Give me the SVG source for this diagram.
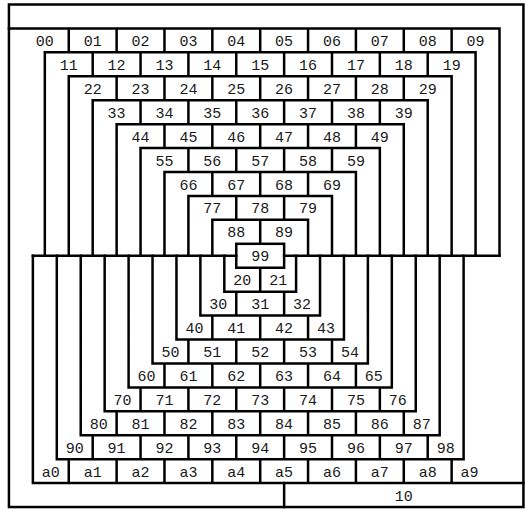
<svg xmlns="http://www.w3.org/2000/svg" width="526" height="509" viewBox="0 0 526 509">
<style>
.ln{fill:none;stroke:#000;stroke-width:2.5;stroke-linecap:square;stroke-linejoin:miter}
.dv{fill:none;stroke:#000;stroke-width:2.5}
text{font-family:"Liberation Mono","DejaVu Sans Mono",monospace;font-size:15px;text-anchor:middle;fill:#1a1a1a}
</style>
<rect width="526" height="509" fill="#fff"/>
<g id="connectors">
<rect class="ln" x="8.94" y="4.5" width="514.49" height="502.53"/>
<path class="ln" d="M8.94 28.43H499.5V255.77"/>
<path class="ln" d="M44.83 255.77V52.36H475.57V255.77M68.76 255.77V76.29H451.64V255.77M92.69 255.77V100.22H427.71V255.77M116.62 255.77V124.15H403.78V255.77M140.55 255.77V148.08H379.85V255.77M164.48 255.77V172.01H355.92V255.77M188.41 255.77V195.94H331.99V255.77M212.34 255.77V219.87H308.06V255.77"/>
<path class="ln" d="M32.87 255.77H236.27M284.13 255.77H499.5"/>
<rect class="ln" x="236.27" y="243.8" width="47.86" height="23.93"/>
<path class="ln" d="M224.31 255.77V291.66H296.1V255.77M200.38 255.77V315.59H320.03V255.77M176.45 255.77V339.52H343.96V255.77M152.52 255.77V363.45H367.89V255.77M128.59 255.77V387.38H391.82V255.77M104.66 255.77V411.31H415.75V255.77M80.73 255.77V435.24H439.68V255.77M56.8 255.77V459.17H463.61V255.77M32.87 255.77V483.1H523.43"/>
<path class="ln" d="M284.13 483.1V507.03"/>
<path class="dv" d="M68.76 28.43V52.36M116.62 28.43V52.36M164.48 28.43V52.36M212.34 28.43V52.36M260.2 28.43V52.36M308.06 28.43V52.36M355.92 28.43V52.36M403.78 28.43V52.36M451.64 28.43V52.36
M92.69 52.36V76.29M140.55 52.36V76.29M188.41 52.36V76.29M236.27 52.36V76.29M284.13 52.36V76.29M331.99 52.36V76.29M379.85 52.36V76.29M427.71 52.36V76.29
M116.62 76.29V100.22M164.48 76.29V100.22M212.34 76.29V100.22M260.2 76.29V100.22M308.06 76.29V100.22M355.92 76.29V100.22M403.78 76.29V100.22
M140.55 100.22V124.15M188.41 100.22V124.15M236.27 100.22V124.15M284.13 100.22V124.15M331.99 100.22V124.15M379.85 100.22V124.15
M164.48 124.15V148.08M212.34 124.15V148.08M260.2 124.15V148.08M308.06 124.15V148.08M355.92 124.15V148.08
M188.41 148.08V172.01M236.27 148.08V172.01M284.13 148.08V172.01M331.99 148.08V172.01
M212.34 172.01V195.94M260.2 172.01V195.94M308.06 172.01V195.94
M236.27 195.94V219.87M284.13 195.94V219.87
M260.2 219.87V243.8
M260.2 267.73V291.66
M236.27 291.66V315.59M284.13 291.66V315.59
M212.34 315.59V339.52M260.2 315.59V339.52M308.06 315.59V339.52
M188.41 339.52V363.45M236.27 339.52V363.45M284.13 339.52V363.45M331.99 339.52V363.45
M164.48 363.45V387.38M212.34 363.45V387.38M260.2 363.45V387.38M308.06 363.45V387.38M355.92 363.45V387.38
M140.55 387.38V411.31M188.41 387.38V411.31M236.27 387.38V411.31M284.13 387.38V411.31M331.99 387.38V411.31M379.85 387.38V411.31
M116.62 411.31V435.24M164.48 411.31V435.24M212.34 411.31V435.24M260.2 411.31V435.24M308.06 411.31V435.24M355.92 411.31V435.24M403.78 411.31V435.24
M92.69 435.24V459.17M140.55 435.24V459.17M188.41 435.24V459.17M236.27 435.24V459.17M284.13 435.24V459.17M331.99 435.24V459.17M379.85 435.24V459.17M427.71 435.24V459.17
M68.76 459.17V483.1M116.62 459.17V483.1M164.48 459.17V483.1M212.34 459.17V483.1M260.2 459.17V483.1M308.06 459.17V483.1M355.92 459.17V483.1M403.78 459.17V483.1M451.64 459.17V483.1"/>
</g>
<g id="n00"><text x="44.83" y="45.9">00</text></g>
<g id="n01"><text x="92.69" y="45.9">01</text></g>
<g id="n02"><text x="140.55" y="45.9">02</text></g>
<g id="n03"><text x="188.41" y="45.9">03</text></g>
<g id="n04"><text x="236.27" y="45.9">04</text></g>
<g id="n05"><text x="284.13" y="45.9">05</text></g>
<g id="n06"><text x="331.99" y="45.9">06</text></g>
<g id="n07"><text x="379.85" y="45.9">07</text></g>
<g id="n08"><text x="427.71" y="45.9">08</text></g>
<g id="n09"><text x="475.57" y="45.9">09</text></g>
<g id="n11"><text x="68.76" y="69.8">11</text></g>
<g id="n12"><text x="116.62" y="69.8">12</text></g>
<g id="n13"><text x="164.48" y="69.8">13</text></g>
<g id="n14"><text x="212.34" y="69.8">14</text></g>
<g id="n15"><text x="260.2" y="69.8">15</text></g>
<g id="n16"><text x="308.06" y="69.8">16</text></g>
<g id="n17"><text x="355.92" y="69.8">17</text></g>
<g id="n18"><text x="403.78" y="69.8">18</text></g>
<g id="n19"><text x="451.64" y="69.8">19</text></g>
<g id="n22"><text x="92.69" y="93.8">22</text></g>
<g id="n23"><text x="140.55" y="93.8">23</text></g>
<g id="n24"><text x="188.41" y="93.8">24</text></g>
<g id="n25"><text x="236.27" y="93.8">25</text></g>
<g id="n26"><text x="284.13" y="93.8">26</text></g>
<g id="n27"><text x="331.99" y="93.8">27</text></g>
<g id="n28"><text x="379.85" y="93.8">28</text></g>
<g id="n29"><text x="427.71" y="93.8">29</text></g>
<g id="n33"><text x="116.62" y="117.7">33</text></g>
<g id="n34"><text x="164.48" y="117.7">34</text></g>
<g id="n35"><text x="212.34" y="117.7">35</text></g>
<g id="n36"><text x="260.2" y="117.7">36</text></g>
<g id="n37"><text x="308.06" y="117.7">37</text></g>
<g id="n38"><text x="355.92" y="117.7">38</text></g>
<g id="n39"><text x="403.78" y="117.7">39</text></g>
<g id="n44"><text x="140.55" y="141.6">44</text></g>
<g id="n45"><text x="188.41" y="141.6">45</text></g>
<g id="n46"><text x="236.27" y="141.6">46</text></g>
<g id="n47"><text x="284.13" y="141.6">47</text></g>
<g id="n48"><text x="331.99" y="141.6">48</text></g>
<g id="n49"><text x="379.85" y="141.6">49</text></g>
<g id="n55"><text x="164.48" y="165.6">55</text></g>
<g id="n56"><text x="212.34" y="165.6">56</text></g>
<g id="n57"><text x="260.2" y="165.6">57</text></g>
<g id="n58"><text x="308.06" y="165.6">58</text></g>
<g id="n59"><text x="355.92" y="165.6">59</text></g>
<g id="n66"><text x="188.41" y="189.5">66</text></g>
<g id="n67"><text x="236.27" y="189.5">67</text></g>
<g id="n68"><text x="284.13" y="189.5">68</text></g>
<g id="n69"><text x="331.99" y="189.5">69</text></g>
<g id="n77"><text x="212.34" y="213.4">77</text></g>
<g id="n78"><text x="260.2" y="213.4">78</text></g>
<g id="n79"><text x="308.06" y="213.4">79</text></g>
<g id="n88"><text x="236.27" y="237.3">88</text></g>
<g id="n89"><text x="284.13" y="237.3">89</text></g>
<g id="n99"><text x="260.2" y="261.3">99</text></g>
<g id="n20"><text x="242.25" y="285.2">20</text></g>
<g id="n21"><text x="278.15" y="285.2">21</text></g>
<g id="n30"><text x="218.32" y="309.1">30</text></g>
<g id="n31"><text x="260.2" y="309.1">31</text></g>
<g id="n32"><text x="302.08" y="309.1">32</text></g>
<g id="n40"><text x="194.39" y="333.1">40</text></g>
<g id="n41"><text x="236.27" y="333.1">41</text></g>
<g id="n42"><text x="284.13" y="333.1">42</text></g>
<g id="n43"><text x="326.01" y="333.1">43</text></g>
<g id="n50"><text x="170.46" y="357">50</text></g>
<g id="n51"><text x="212.34" y="357">51</text></g>
<g id="n52"><text x="260.2" y="357">52</text></g>
<g id="n53"><text x="308.06" y="357">53</text></g>
<g id="n54"><text x="349.94" y="357">54</text></g>
<g id="n60"><text x="146.53" y="380.9">60</text></g>
<g id="n61"><text x="188.41" y="380.9">61</text></g>
<g id="n62"><text x="236.27" y="380.9">62</text></g>
<g id="n63"><text x="284.13" y="380.9">63</text></g>
<g id="n64"><text x="331.99" y="380.9">64</text></g>
<g id="n65"><text x="373.87" y="380.9">65</text></g>
<g id="n70"><text x="122.6" y="404.9">70</text></g>
<g id="n71"><text x="164.48" y="404.9">71</text></g>
<g id="n72"><text x="212.34" y="404.9">72</text></g>
<g id="n73"><text x="260.2" y="404.9">73</text></g>
<g id="n74"><text x="308.06" y="404.9">74</text></g>
<g id="n75"><text x="355.92" y="404.9">75</text></g>
<g id="n76"><text x="397.8" y="404.9">76</text></g>
<g id="n80"><text x="98.67" y="428.8">80</text></g>
<g id="n81"><text x="140.55" y="428.8">81</text></g>
<g id="n82"><text x="188.41" y="428.8">82</text></g>
<g id="n83"><text x="236.27" y="428.8">83</text></g>
<g id="n84"><text x="284.13" y="428.8">84</text></g>
<g id="n85"><text x="331.99" y="428.8">85</text></g>
<g id="n86"><text x="379.85" y="428.8">86</text></g>
<g id="n87"><text x="421.73" y="428.8">87</text></g>
<g id="n90"><text x="74.74" y="452.7">90</text></g>
<g id="n91"><text x="116.62" y="452.7">91</text></g>
<g id="n92"><text x="164.48" y="452.7">92</text></g>
<g id="n93"><text x="212.34" y="452.7">93</text></g>
<g id="n94"><text x="260.2" y="452.7">94</text></g>
<g id="n95"><text x="308.06" y="452.7">95</text></g>
<g id="n96"><text x="355.92" y="452.7">96</text></g>
<g id="n97"><text x="403.78" y="452.7">97</text></g>
<g id="n98"><text x="445.66" y="452.7">98</text></g>
<g id="na0"><text x="50.81" y="476.6">a0</text></g>
<g id="na1"><text x="92.69" y="476.6">a1</text></g>
<g id="na2"><text x="140.55" y="476.6">a2</text></g>
<g id="na3"><text x="188.41" y="476.6">a3</text></g>
<g id="na4"><text x="236.27" y="476.6">a4</text></g>
<g id="na5"><text x="284.13" y="476.6">a5</text></g>
<g id="na6"><text x="331.99" y="476.6">a6</text></g>
<g id="na7"><text x="379.85" y="476.6">a7</text></g>
<g id="na8"><text x="427.71" y="476.6">a8</text></g>
<g id="na9"><text x="469.59" y="476.6">a9</text></g>
<g id="n10"><text x="403.78" y="500.6">10</text></g>
</svg>
